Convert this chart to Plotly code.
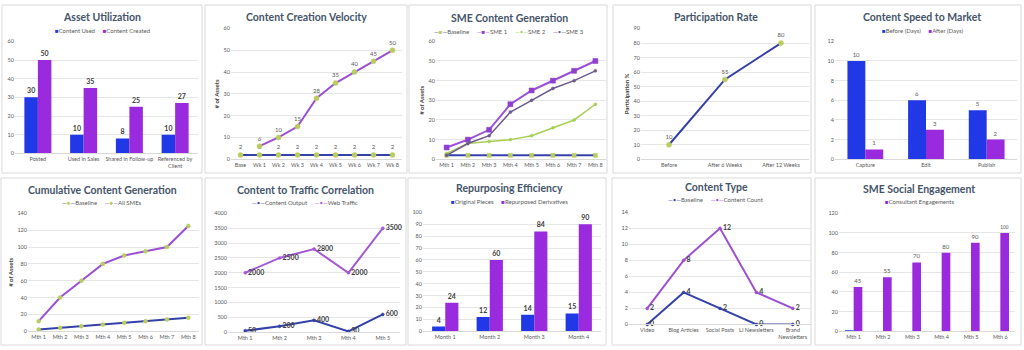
import plotly.graph_objects as go

W, H = 1024, 350

# ---------------- data ----------------
au_cats = ["Posted", "Used in Sales", "Shared in Follow-up", "Referenced by<br>Client"]
au_used = [30, 10, 8, 10]
au_created = [50, 35, 25, 27]

ccv_cats = ["Base", "Wk 1", "Wk 2", "Wk 3", "Wk 4", "Wk 5", "Wk 6", "Wk 7", "Wk 8"]
ccv_content = [None, 6, 10, 15, 28, 35, 40, 45, 50]
ccv_baseline = [2, 2, 2, 2, 2, 2, 2, 2, 2]

sme_cats = ["Mth 1", "Mth 2", "Mth 3", "Mth 4", "Mth 5", "Mth 6", "Mth 7", "Mth 8"]
sme_baseline = [2, 2, 2, 2, 2, 2, 2, 2]
sme_1 = [6, 10, 15, 28, 35, 40, 45, 50]
sme_2 = [3, 8, 9, 10, 12, 16, 20, 28]
sme_3 = [2, 8, 12, 24, 30, 36, 40, 45]

pr_cats = ["Before", "After 6 Weeks", "After 12 Weeks"]
pr_values = [10, 55, 80]

spd_cats = ["Capture", "Edit", "Publish"]
spd_before = [10, 6, 5]
spd_after = [1, 3, 2]

cum_cats = ["Mth 1", "Mth 2", "Mth 3", "Mth 4", "Mth 5", "Mth 6", "Mth 7", "Mth 8"]
cum_baseline = [2, 4, 6, 8, 10, 12, 14, 16]
cum_all = [12, 40, 60, 80, 90, 95, 100, 125]

ctt_cats = ["Mth 1", "Mth 2", "Mth 3", "Mth 4", "Mth 5"]
ctt_output = [50, 200, 400, 30, 600]
ctt_traffic = [2000, 2500, 2800, 2000, 3500]

rep_cats = ["Month 1", "Month 2", "Month 3", "Month 4"]
rep_original = [4, 12, 14, 15]
rep_derived = [24, 60, 84, 90]

ct_cats = ["Video", "Blog Articles", "Social Posts", "LI Newsletters", "Brand<br>Newsletters"]
ct_baseline = [0, 4, 2, 0, 0]
ct_count = [2, 8, 12, 4, 2]

soc_cats = ["Mth 1", "Mth 2", "Mth 3", "Mth 4", "Mth 5", "Mth 6"]
soc_engagements = [45, 55, 70, 80, 90, 100]
soc_other = [0.5, 0, 0, 0, 0, 0]

# ---------------- style ----------------
FONT = "Lato"
TITLE_C = "#44546A"
TICK_C = "#595959"
LABEL_C = "#404040"
BLUE_BAR = "#2038e6"
PURPLE_BAR = "#9a2ade"
LINE_BLUE = "#3441a8"
LINE_PURPLE = "#9b50d5"
MARK_GREEN = "#b9cc5e"
SME2_C = "#a8cf55"
SME3_C = "#6c5b8c"
WEB_C = "#a45ad8"
NB = "\u00a0"

fig = go.Figure()
layout = dict(
    width=W, height=H, margin=dict(l=0, r=0, t=0, b=0),
    paper_bgcolor="white", plot_bgcolor="white",
    font=dict(family=FONT, size=6, color=TICK_C),
    barmode="group", bargap=0.41, bargroupgap=0.0,
    showlegend=False,
)
annotations = []
shapes = []


def sx(n):
    return "" if n == 1 else str(n)


def axes(n, x0, x1, yt, yb, ymax, dtick, ncat, ytitle=None):
    s = sx(n)
    layout["xaxis" + s] = dict(
        domain=[x0 / W, x1 / W], anchor="y" + s, type="category",
        range=[-0.5, ncat - 0.5], showgrid=False, showline=True,
        linecolor="#d9d9d9", linewidth=1, ticks="", fixedrange=True,
        tickfont=dict(size=5.5, color=TICK_C, family=FONT), tickangle=0,
    )
    ya = dict(
        domain=[1 - yb / H, 1 - yt / H], anchor="x" + s, range=[0, ymax],
        dtick=dtick, showgrid=True, gridcolor="#e6e6e6", gridwidth=1,
        zeroline=False, showline=False, ticks="", fixedrange=True,
        tickfont=dict(size=5.5, color=TICK_C, family=FONT),
    )
    if ytitle:
        ya["title"] = dict(text="<b>" + ytitle + "</b>",
                           font=dict(size=6, color=LABEL_C, family=FONT),
                           standoff=3)
    layout["yaxis" + s] = ya


def panel(bx0, by0, bx1, by1, title, tx, ty):
    shapes.append(dict(type="rect", xref="paper", yref="paper",
                       x0=bx0 / W, x1=bx1 / W, y0=1 - by1 / H, y1=1 - by0 / H,
                       line=dict(color="#d9d9d9", width=1), fillcolor="rgba(0,0,0,0)",
                       layer="below"))
    annotations.append(dict(text="<b>" + title + "</b>", x=tx / W, y=1 - ty / H,
                            xref="paper", yref="paper", showarrow=False,
                            xanchor="center", yanchor="middle",
                            font=dict(size=10.5, color=TITLE_C, family=FONT)))


def legend(cx, cy, items):
    parts = []
    for it in items:
        if it[0] == "bar":
            _, name, col = it
            parts.append("<span style='color:%s'>\u25a0</span>%s" % (col, name))
        else:
            _, name, lcol, mcol, sym = it
            parts.append("<span style='color:%s'>\u2014</span><span style='color:%s'>%s</span>"
                         "<span style='color:%s'>\u2014</span>%s" % (lcol, mcol, sym, lcol, name))
    txt = (NB * 5).join(parts)
    annotations.append(dict(text=txt, x=cx / W, y=1 - cy / H, xref="paper", yref="paper",
                            showarrow=False, xanchor="center", yanchor="middle",
                            font=dict(size=6, color=TICK_C, family=FONT)))


def bar(n, cats, vals, name, color, text=True, bold=False, tcolor=LABEL_C):
    s = sx(n)
    t = None
    if text:
        t = [("<b>%s</b>" % v if bold else str(v)) for v in vals]
    fig.add_trace(go.Bar(
        x=cats, y=vals, name=name, xaxis="x" + s, yaxis="y" + s,
        marker=dict(color=color, line=dict(width=0)),
        text=t, textposition="outside", cliponaxis=False,
        textfont=dict(size=7 if bold else 6, color=tcolor, family=FONT),
        hoverinfo="skip",
    ))


def line(n, cats, vals, name, lcolor, mcolor, lw=2, msize=5, msym="circle",
         text=False, tpos="top center", bold=False, tcolor=TICK_C):
    s = sx(n)
    mode = "lines+markers" + ("+text" if text else "")
    t = None
    if text:
        t = [("" if v is None else ("<b>%s</b>" % v if bold else str(v))) for v in vals]
    fig.add_trace(go.Scatter(
        x=cats, y=vals, name=name, xaxis="x" + s, yaxis="y" + s, mode=mode,
        line=dict(color=lcolor, width=lw),
        marker=dict(color=mcolor, size=msize, symbol=msym,
                    line=dict(color=mcolor, width=0.5)),
        text=t, textposition=tpos, cliponaxis=False,
        textfont=dict(size=7 if bold else 6, color=tcolor, family=FONT),
        connectgaps=False, hoverinfo="skip",
    ))


# ---------- Panel 1: Asset Utilization ----------
panel(2, 2, 202, 173, "Asset Utilization", 102, 14)
axes(1, 15, 198, 39, 153, 60, 10, 4)
legend(102, 28, [("bar", "Content Used", BLUE_BAR), ("bar", "Content Created", PURPLE_BAR)])
bar(1, au_cats, au_used, "Content Used", BLUE_BAR, bold=True)
bar(1, au_cats, au_created, "Content Created", PURPLE_BAR, bold=True)

# ---------- Panel 2: Content Creation Velocity ----------
panel(205, 2, 407, 173, "Content Creation Velocity", 306, 14)
axes(2, 231, 402, 26, 159, 60, 10, 9, ytitle="# of Assets")
line(2, ccv_cats, ccv_baseline, "Baseline", LINE_BLUE, MARK_GREEN, text=True)
line(2, ccv_cats, ccv_content, "Content", LINE_PURPLE, MARK_GREEN, text=True)

# ---------- Panel 3: SME Content Generation ----------
panel(409, 2, 607, 173, "SME Content Generation", 509, 15)
axes(3, 436, 606, 39, 159, 60, 10, 8, ytitle="# of Assets")
legend(509, 29, [("line", "Baseline", LINE_BLUE, MARK_GREEN, "\u25a0"),
                 ("line", "SME 1", LINE_PURPLE, "#8d3fd0", "\u25a0"),
                 ("line", "SME 2", SME2_C, SME2_C, "\u2022"),
                 ("line", "SME 3", SME3_C, SME3_C, "\u2022")])
line(3, sme_cats, sme_baseline, "Baseline", LINE_BLUE, MARK_GREEN, msym="square", msize=4)
line(3, sme_cats, sme_1, "SME 1", LINE_PURPLE, "#8d3fd0", msym="square", msize=5)
line(3, sme_cats, sme_2, "SME 2", SME2_C, SME2_C, lw=1.5, msize=3)
line(3, sme_cats, sme_3, "SME 3", SME3_C, SME3_C, lw=1.5, msize=3)

# ---------- Panel 4: Participation Rate ----------
panel(613, 2, 811, 173, "Participation Rate", 716, 14)
axes(4, 641, 809, 26, 159, 90, 10, 3, ytitle="Participation %")
line(4, pr_cats, pr_values, "Participation", LINE_BLUE, MARK_GREEN, text=True)

# ---------- Panel 5: Content Speed to Market ----------
panel(815, 2, 1021, 173, "Content Speed to Market", 922, 14)
axes(5, 835, 1017, 39, 159, 12, 2, 3)
legend(922, 28, [("bar", "Before (Days)", BLUE_BAR), ("bar", "After (Days)", PURPLE_BAR)])
bar(5, spd_cats, spd_before, "Before (Days)", BLUE_BAR, tcolor=TICK_C)
bar(5, spd_cats, spd_after, "After (Days)", PURPLE_BAR, tcolor=TICK_C)

# ---------- Panel 6: Cumulative Content Generation ----------
panel(1, 178, 202, 348, "Cumulative Content Generation", 102, 190)
axes(6, 28, 199, 214, 334, 140, 20, 8, ytitle="# of Assets")
legend(102, 203, [("line", "Baseline", LINE_BLUE, MARK_GREEN, "\u25cf"),
                  ("line", "All SMEs", LINE_PURPLE, MARK_GREEN, "\u25cf")])
line(6, cum_cats, cum_baseline, "Baseline", LINE_BLUE, MARK_GREEN, msize=4)
line(6, cum_cats, cum_all, "All SMEs", LINE_PURPLE, MARK_GREEN, msize=4)

# ---------- Panel 7: Content to Traffic Correlation ----------
panel(205, 178, 406, 348, "Content to Traffic Correlation", 305, 190)
axes(7, 228, 400, 214, 335, 4000, 500, 5)
legend(305, 203, [("line", "Content Output", LINE_BLUE, LINE_BLUE, "\u2022"),
                  ("line", "Web Traffic", WEB_C, WEB_C, "\u2022")])
line(7, ctt_cats, ctt_output, "Content Output", LINE_BLUE, LINE_BLUE, msize=3,
     text=True, tpos="middle right", bold=True, tcolor=LABEL_C)
line(7, ctt_cats, ctt_traffic, "Web Traffic", WEB_C, WEB_C, msize=3,
     text=True, tpos="middle right", bold=True, tcolor=LABEL_C)

# ---------- Panel 8: Repurposing Efficiency ----------
panel(408, 178, 606, 348, "Repurposing Efficiency", 509, 188)
axes(8, 423, 601, 213, 334, 100, 10, 4)
legend(509, 202, [("bar", "Original Pieces", BLUE_BAR), ("bar", "Repurposed Derivatives", PURPLE_BAR)])
bar(8, rep_cats, rep_original, "Original Pieces", BLUE_BAR, bold=True)
bar(8, rep_cats, rep_derived, "Repurposed Derivatives", PURPLE_BAR, bold=True)

# ---------- Panel 9: Content Type ----------
panel(612, 178, 811, 348, "Content Type", 716, 187)
axes(9, 629, 811, 213, 327, 14, 2, 5)
legend(716, 200, [("line", "Baseline", LINE_BLUE, LINE_BLUE, "\u2022"),
                  ("line", "Content Count", LINE_PURPLE, LINE_PURPLE, "\u2022")])
line(9, ct_cats, ct_baseline, "Baseline", LINE_BLUE, LINE_BLUE, msize=3,
     text=True, tpos="middle right", bold=True, tcolor=LABEL_C)
line(9, ct_cats, ct_count, "Content Count", LINE_PURPLE, LINE_PURPLE, msize=3,
     text=True, tpos="middle right", bold=True, tcolor=LABEL_C)

# ---------- Panel 10: SME Social Engagement ----------
panel(815, 178, 1021, 348, "SME Social Engagement", 919, 189)
axes(10, 839, 1015, 214, 334, 120, 20, 6)
legend(919, 202, [("bar", "Consultant Engagements", PURPLE_BAR)])
bar(10, soc_cats, soc_other, "Other", BLUE_BAR, text=False)
bar(10, soc_cats, soc_engagements, "Consultant Engagements", PURPLE_BAR, tcolor=TICK_C)

layout["annotations"] = annotations
layout["shapes"] = shapes
fig.update_layout(**layout)
fig.write_html("out.html")
